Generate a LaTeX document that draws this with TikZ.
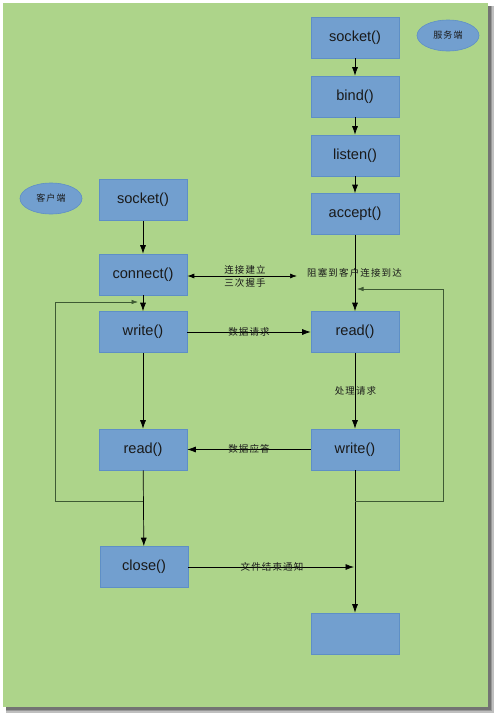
\documentclass[tikz,border=0pt]{standalone}
\usepackage{fontspec}
\setmainfont{Liberation Sans}
\newfontfamily\cjk[LetterSpace=12]{Noto Sans CJK SC}
\usetikzlibrary{arrows.meta,shapes.geometric}
\definecolor{bggreen}{HTML}{ADD48A}
\definecolor{boxblue}{HTML}{729FCF}
\definecolor{boxedge}{HTML}{5E8FC6}
\definecolor{loopc}{HTML}{3E5A33}
\definecolor{txt}{HTML}{1A1A1A}
\begin{document}
\begin{tikzpicture}[x=1pt,y=-1pt,
  fnbox/.style={draw=boxedge,fill=boxblue,line width=0.6pt,minimum width=88pt,minimum height=41pt,inner sep=0pt,text=txt,font=\fontsize{14.6}{16}\selectfont},
  tag/.style={ellipse,draw=boxedge,fill=boxblue,line width=0.6pt,minimum width=62pt,minimum height=31pt,inner sep=0pt,text=txt,font=\cjk\fontsize{9}{10}\selectfont},
  lbl/.style={inner sep=0pt,text=txt,font=\cjk\fontsize{9.5}{13}\selectfont,align=center},
  arr/.style={draw=black,line width=0.7pt,-{Latex[length=8.5pt,width=6pt]}},
  darr/.style={draw=black,line width=0.7pt,{Latex[length=7pt,width=5pt]}-{Latex[length=7pt,width=5pt]}},
  looparr/.style={draw=loopc,line width=0.6pt,-{Latex[length=6.5pt,width=4.5pt]}}]
\useasboundingbox (0,0) rectangle (500,720);
\fill[white] (0,0) rectangle (500,720);
% shadow
\fill[black!25] (6,6) rectangle (494,713);
\fill[black!40] (6,6) rectangle (492,711);
\fill[black!55] (6,6) rectangle (491,710);
\fill[bggreen] (3,3) rectangle (488,707);

% server column
\node[fnbox] (ss) at (355,37.5) {socket()};
\node[fnbox] (bind) at (355,96.5) {bind()};
\node[fnbox] (listen) at (355,155.5) {listen()};
\node[fnbox] (accept) at (355,214) {accept()};
\node[fnbox] (sread) at (355,332) {read()};
\node[fnbox] (swrite) at (355,449.5) {write()};
\node[fnbox] (send) at (355,633.5) {};
\node[tag] (stag) at (448,35.5) {服务端};

% client column
\node[fnbox] (cs) at (143,200) {socket()};
\node[fnbox] (conn) at (143,274.5) {connect()};
\node[fnbox] (cw) at (143,332) {write()};
\node[fnbox] (cr) at (143,449.5) {read()};
\node[fnbox] (close) at (144,567) {close()};
\node[tag] (ctag) at (51,198.5) {客户端};

% server arrows
\draw[arr] (ss) -- (bind);
\draw[arr] (bind) -- (listen);
\draw[arr] (listen) -- (accept);
\draw[arr] (accept) -- (sread);
\draw[arr] (sread) -- (swrite);
\draw[arr] (swrite) -- (send);

% client arrows
\draw[arr] (cs) -- (conn);
\draw[arr] (conn) -- (cw);
\draw[arr] (cr) -- (close);
\draw[arr] (cw) -- (cr);

% handshake
\coordinate (hsEnd) at (297,276);
\draw[darr] (conn.east |- hsEnd) -- (hsEnd);
\node[lbl] (hs) at (245,276.5) {连接建立\\三次握手};
\node[lbl,anchor=west] (block) at (307,273) {阻塞到客户连接到达};

% data
\draw[arr] (cw) -- (sread);
\node[lbl] (req) at (249,332) {数据请求};
\node[lbl] (proc) at (355.5,391) {处理请求};
\draw[arr] (swrite) -- (cr);
\node[lbl] (resp) at (249,449) {数据应答};

% close notify
\coordinate (eofEnd) at (354,567);
\draw[arr] (close) -- (eofEnd);
\node[lbl] (eof) at (272,567) {文件结束通知};

% loops
\coordinate (cl1) at (143,501);
\coordinate (cl2) at (55,302);
\coordinate (cl3) at (138,302);
\draw[looparr] (cl1) -| (cl2) -- (cl3);
\coordinate (sl1) at (355,501);
\coordinate (sl2) at (443,289);
\coordinate (sl3) at (357,289);
\draw[looparr] (sl1) -| (sl2) -- (sl3);
\end{tikzpicture}
\end{document}
